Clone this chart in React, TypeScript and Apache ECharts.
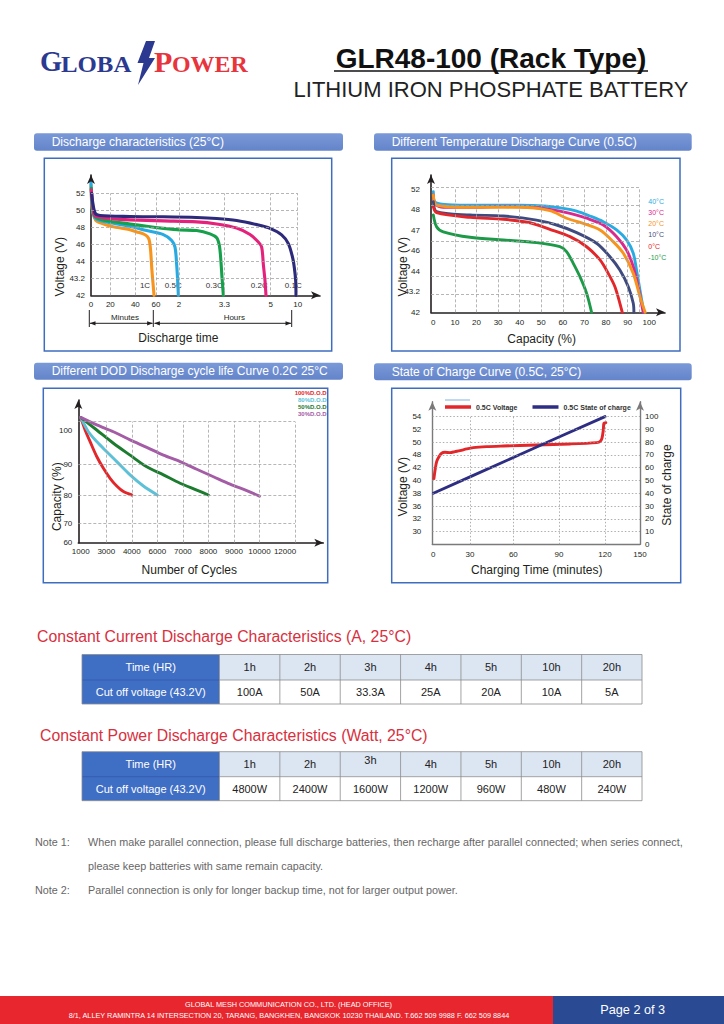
import React, { useEffect, useRef } from "react";
import * as echarts from "echarts";

const FONT = "'Liberation Sans', Arial, Helvetica, sans-serif";
const SERIF = "'Liberation Serif', 'Times New Roman', serif";

/* ======================= DATA ======================= */
// Chart 1 – Discharge characteristics (25°C)
const dcTimeTicks = [0, 20, 40, 60, 120, 198, 300, 600]; // minutes
const dcTimeLabels = ["0", "20", "40", "60", "2", "3.3", "5", "10"];
const dcVoltTicks = [42, 43.2, 44, 46, 48, 50, 52];
const dcVoltLabels = ["42", "43.2", "44", "46", "48", "50", "52"];
const dcRates = ["1C", "0.5C", "0.3C", "0.2C", "0.1C"];
const dc1C = [[0, 53.0], [1.0, 50.4], [3.1, 49.28], [5.9, 48.72], [16.2, 48.28], [22.4, 48.08], [30.4, 47.88], [35.7, 47.73], [41.3, 47.46], [47.7, 47.23], [51.6, 46.92], [53.5, 46.46], [54.8, 45.25], [56.1, 43.55], [57.4, 42.59], [58.1, 42.0]];
const dc05C = [[0, 53.2], [1.4, 50.2], [4.1, 49.12], [9.3, 48.8], [22.4, 48.48], [35.7, 48.12], [51.0, 47.62], [79.1, 47.15], [100.9, 46.46], [109.6, 45.67], [113.9, 43.85], [116.5, 43.04], [118.3, 42.0]];
const dc03C = [[0.3, 52.6], [2.4, 49.8], [5.9, 49.12], [19.7, 48.72], [35.7, 48.4], [51.0, 48.12], [79.1, 47.88], [121.7, 47.69], [150.4, 47.62], [173.4, 47.23], [184.8, 46.77], [189.4, 45.88], [191.7, 44.42], [194.0, 43.25], [196.3, 42.0]];
const dc02C = [[0.3, 52.4], [3.1, 49.6], [5.9, 49.28], [22.4, 49.0], [35.7, 48.88], [79.1, 48.76], [150.4, 48.64], [184.8, 48.4], [225.2, 47.92], [254.5, 47.15], [272.8, 46.27], [280.2, 45.67], [283.9, 43.85], [287.5, 43.04], [289.7, 42.0]];
const dc01C = [[0.7, 52.0], [4.1, 49.7], [9.3, 49.4], [35.7, 49.28], [79.1, 49.24], [150.4, 49.16], [184.8, 49.04], [225.2, 48.8], [269.2, 48.32], [298.5, 47.88], [422, 47.12], [496.3, 46.08], [544.4, 44.42], [563, 43.7], [577.8, 43.04], [581.5, 42.0]];
const dcColors = ["#f7941d", "#27aae1", "#17a04b", "#e4227c", "#2d2a7c"];

// Chart 2 – Different temperature discharge curve (0.5C)
const tcCapTicks = [0, 10, 20, 30, 40, 50, 60, 70, 80, 90, 100];
const tcVoltTicks = [42, 43.2, 44, 46, 47, 48, 52];
const tcVoltLabels = ["42", "43.2", "44", "46", "47", "48", "52"];
const tcNames = ["40°C", "30°C", "20°C", "10°C", "0°C", "-10°C"];
const tc40 = [[0, 51.54], [0.3, 49.79], [3.1, 49.14], [9.3, 48.94], [24.7, 48.88], [40.1, 48.88], [50.9, 48.75], [60.2, 48.29], [66.4, 47.94], [72.5, 47.7], [78.7, 47.42], [84.9, 47.02], [89.5, 46.53], [92.6, 45.76], [94.1, 44.13], [95.7, 43.27], [97.5, 42]];
const tc30 = [[0, 50.9], [0.8, 49.14], [4.6, 48.49], [17.0, 48.49], [32.4, 48.62], [44.8, 48.49], [54.0, 48.1], [63.3, 47.83], [71.0, 47.59], [78.7, 47.26], [84.9, 46.69], [89.5, 46.04], [92.6, 44.46], [94.9, 43.4], [97.2, 42]];
const tc20 = [[0, 50.9], [1.5, 48.94], [17.0, 48.49], [40.1, 48.49], [54.0, 47.96], [61.7, 47.59], [69.4, 47.34], [77.2, 47.02], [83.3, 46.45], [88.0, 45.76], [92.6, 43.92], [95.7, 42.92], [98.1, 42]];
const tc10 = [[0, 49.59], [1.5, 47.91], [17.0, 47.75], [32.4, 47.7], [47.8, 47.5], [57.1, 47.26], [66.4, 46.89], [75.6, 46.37], [81.8, 45.43], [86.4, 44.13], [90.3, 43.4], [92.6, 42.53], [92.9, 42]];
const tc0 = [[0, 48.62], [1.5, 47.86], [17.0, 47.63], [32.4, 47.54], [44.8, 47.37], [54.0, 47.05], [63.3, 46.69], [71.0, 46.2], [77.2, 45.11], [81.0, 43.92], [84.1, 43.4], [86.4, 42.53], [87.5, 42]];
const tcM10 = [[0, 47.75], [1.5, 47.18], [4.6, 46.93], [17.0, 46.66], [32.4, 46.53], [47.8, 46.4], [58.6, 46.2], [61.7, 45.92], [64.8, 44.78], [67.9, 43.79], [71.0, 43.11], [73.3, 42]];
const tcColors = ["#29abe2", "#d9298d", "#f7941d", "#3f4b7e", "#e3262a", "#1c9a48"];

// Chart 3 – Different DOD discharge cycle life
const cyTicks = [1000, 3000, 4000, 6000, 7000, 8000, 9000, 10000, 12000];
const cyLabels = ["1000", "3000", "4000", "6000", "7000", "8000", "9000", "10000", "12000"];
const cyCapTicks = [60, 70, 80, 90, 100];
const cyCapLabels = ["60", "70", "80", "90", "100"];
const cyNames = ["100%D.O.D", "80%D.O.D", "50%D.O.D", "30%D.O.D"];
const cy100 = [[1000, 103.7], [1340, 100], [1731, 96.6], [2253, 92.2], [2775, 88.6], [3149, 85.4], [3410, 82.9], [3671, 81.1], [4000, 80]];
const cy80 = [[1000, 103.7], [1600, 99.5], [2253, 96.6], [3018, 93.6], [3410, 90.7], [3932, 86.5], [4908, 82.9], [6000, 80]];
const cy50 = [[1000, 103.7], [2253, 100], [3279, 96.1], [3932, 92.6], [5170, 89.1], [6238, 86.5], [6890, 83.8], [7543, 81.6], [8000, 80]];
const cy30 = [[1000, 103.7], [2253, 101.5], [3279, 99.5], [3932, 97.1], [5170, 94.9], [6238, 92.6], [6890, 90.7], [7543, 88.3], [8196, 85.9], [8849, 83.5], [9501, 81.4], [10000, 79.6]];
const cyColors = ["#e3262a", "#5cc1d6", "#1b7b2e", "#a45ca6"];

// Chart 4 – State of charge curve (0.5C, 25°C)
const chTimeTicks = [0, 30, 60, 90, 120, 150];
const chTimeLabels = ["0", "30", "60", "90", "120", "150"];
const chVoltTicks = [30, 32, 36, 38, 40, 42, 48, 50, 52, 54];
const chVoltLabels = ["30", "32", "36", "38", "40", "42", "48", "50", "52", "54"];
const chSocTicks = [0, 10, 20, 30, 40, 50, 60, 70, 80, 90, 100];
const chNames = ["0.5C Voltage", "0.5C State of charge"];
const chVoltage = [[0.5, 40.3], [1.4, 41.6], [2.7, 44.85], [4.6, 47.2], [6.8, 48.26], [9.5, 48.41], [13.6, 48.36], [17.7, 48.52], [21.8, 48.67], [27.3, 48.94], [32.3, 49.14], [41.5, 49.3], [53.1, 49.4], [75.3, 49.56], [97.2, 49.72], [114.6, 49.93], [116.7, 50.08], [118.0, 50.6], [118.9, 51.9], [119.3, 52.96], [120.7, 53.06]];
const chSoc = [[0, 40], [30, 52.8], [60, 68], [90, 84], [120, 100]];
const chColors = ["#e3262a", "#2e2d84"];

// Tables
const tblTimes = ["1h", "2h", "3h", "4h", "5h", "10h", "20h"];
const tblCurrent = ["100A", "50A", "33.3A", "25A", "20A", "10A", "5A"];
const tblPower = ["4800W", "2400W", "1600W", "1200W", "960W", "480W", "240W"];

/* ======================= LAYOUT ======================= */
const IDX7 = [0, 1, 2, 3, 4, 5, 6];
const IDX9 = [0, 1, 2, 3, 4, 5, 6, 7, 8];
const IDX1_10 = [1, 2, 3, 4, 5, 6, 7, 8, 9, 10];
const G1_XPOS = [0, 19.33, 44.33, 65, 88, 133.33, 179.67, 206.67];
const G3_YPOS = [0, 19.33, 47.67, 78.67, 112.67];
const G4_XPOS = [1, 37.67, 81, 126.67, 172.67, 207.67];

function warp(v: number, ticks: number[], pos: number[]) {
  const n = ticks.length;
  let i = 0;
  if (v >= ticks[n - 1]) i = n - 2;
  else if (v > ticks[0]) {
    while (v > ticks[i + 1]) i++;
  }
  const t = (v - ticks[i]) / (ticks[i + 1] - ticks[i]);
  return pos[i] + t * (pos[i + 1] - pos[i]);
}
function pickLabel(v: number, pos: number[], labels: string[]) {
  for (let i = 0; i < pos.length; i++) if (Math.abs(pos[i] - v) < 0.01) return labels[i];
  return "";
}

function axLine(color: string, width: number, arrow: boolean) {
  return {
    show: true,
    onZero: false,
    symbol: arrow ? ["none", "arrow"] : "none",
    symbolSize: [6, 9],
    lineStyle: { color, width },
  };
}
function axLabel(pos: number[], labels: string[], margin: number, size = 8) {
  return {
    show: true,
    customValues: pos,
    formatter: (v: number) => pickLabel(v, pos, labels),
    margin,
    fontSize: size,
    color: "#231f20",
    fontFamily: FONT,
  };
}
function valAxis(gridIndex: number, min: number, max: number, line: any, label: any, extra: any = {}) {
  return {
    gridIndex,
    type: "value",
    min,
    max,
    axisLine: line,
    axisTick: { show: false },
    splitLine: { show: false },
    axisLabel: label,
    ...extra,
  };
}
function curve(name: string, data: number[][], color: string, xi: number, yi: number, width = 2.6, smooth: any = 0.3) {
  return {
    type: "line",
    name,
    data,
    xAxisIndex: xi,
    yAxisIndex: yi,
    symbol: "none",
    showSymbol: false,
    smooth,
    clip: false,
    silent: true,
    z: 3,
    lineStyle: { color, width, cap: "round", join: "round" },
    itemStyle: { color },
    emphasis: { disabled: true },
  };
}
function gridLines(xi: number, yi: number, segs: number[][], style: any) {
  return {
    type: "line",
    xAxisIndex: xi,
    yAxisIndex: yi,
    data: [[segs[0][0], segs[0][1]]],
    symbol: "none",
    showSymbol: false,
    silent: true,
    z: 1,
    lineStyle: { opacity: 0 },
    markLine: {
      silent: true,
      symbol: ["none", "none"],
      label: { show: false },
      emphasis: { disabled: true },
      lineStyle: style,
      data: segs.map((s) => [{ coord: [s[0], s[1]] }, { coord: [s[2], s[3]] }]),
    },
  };
}

function txt(x: number, y: number, text: string, o: any = {}) {
  return {
    type: "text",
    x,
    y,
    rotation: o.rot || 0,
    scaleX: o.sx || 1,
    silent: true,
    style: {
      text,
      fill: o.fill || "#231f20",
      fontSize: o.size || 12,
      fontFamily: o.family || FONT,
      fontWeight: o.weight || "normal",
      align: o.align || "left",
      verticalAlign: o.va || "middle",
    },
  };
}
function rect(x: number, y: number, w: number, h: number, fill: any, stroke?: string, lw = 1, r = 0) {
  return {
    type: "rect",
    silent: true,
    shape: { x, y, width: w, height: h, r },
    style: { fill, stroke: stroke || "none", lineWidth: lw },
  };
}
function ln(x1: number, y1: number, x2: number, y2: number, stroke = "#231f20", lw = 1) {
  return { type: "line", silent: true, shape: { x1, y1, x2, y2 }, style: { stroke, lineWidth: lw } };
}
function poly(points: number[][], fill: string) {
  return { type: "polygon", silent: true, shape: { points }, style: { fill } };
}

function tableEls(top: number, h1: number, h2: number, values: string[], raise3: number) {
  const X = 82, C0 = 137.5, CW = 60.36;
  const right = X + C0 + 7 * CW;
  const els: any[] = [];
  els.push(rect(X, top, C0, h1 + h2, "#3f6ec5"));
  els.push(rect(X + C0, top, 7 * CW, h1, "#dce6f3"));
  els.push(rect(X + C0, top + h1, 7 * CW, h2, "#ffffff"));
  els.push(ln(X, top, right, top, "#8c8c8c", 0.8));
  els.push(ln(X + C0, top + h1, right, top + h1, "#8c8c8c", 0.8));
  els.push(ln(X, top + h1, X + C0, top + h1, "#3558a8", 0.8));
  els.push(ln(X, top + h1 + h2, right, top + h1 + h2, "#8c8c8c", 0.8));
  els.push(ln(X, top, X, top + h1 + h2, "#8c8c8c", 0.8));
  for (let i = 0; i <= 7; i++) {
    const x = X + C0 + i * CW;
    els.push(ln(x, top, x, top + h1 + h2, "#8c8c8c", 0.8));
  }
  els.push(txt(X + C0 / 2, top + h1 / 2, "Time (HR)", { fill: "#ffffff", size: 11, align: "center" }));
  els.push(txt(X + C0 / 2, top + h1 + h2 / 2, "Cut off voltage (43.2V)", { fill: "#ffffff", size: 11, align: "center" }));
  tblTimes.forEach((t, i) => {
    const dy = i === 2 ? raise3 : 0;
    els.push(txt(X + C0 + (i + 0.5) * CW, top + h1 / 2 + dy, t, { fill: "#222", size: 11, align: "center" }));
  });
  values.forEach((t, i) => {
    els.push(txt(X + C0 + (i + 0.5) * CW, top + h1 + h2 / 2, t, { fill: "#222", size: 11, align: "center" }));
  });
  return els;
}

function buildGraphics() {
  const els: any[] = [];
  const blue = "#2b3990";
  const red = "#e8343c";
  // Logo
  els.push(txt(40, 76, "G", { family: SERIF, size: 30, weight: "bold", fill: blue, va: "bottom", sx: 0.95 }));
  els.push(txt(61, 75.5, "LOBA", { family: SERIF, size: 23, weight: "bold", fill: blue, va: "bottom", sx: 1.08 }));
  els.push(poly([[146, 41], [155, 41], [149, 58], [155, 58], [138, 85], [143.5, 63], [137.5, 63]], blue));
  els.push(txt(154, 76, "P", { family: SERIF, size: 30, weight: "bold", fill: red, va: "bottom" }));
  els.push(txt(172, 75.5, "OWER", { family: SERIF, size: 23, weight: "bold", fill: red, va: "bottom", sx: 1.04 }));
  // Title
  els.push(txt(491, 58, "GLR48-100 (Rack Type)", { size: 28, weight: "bold", align: "center", fill: "#111" }));
  els.push(ln(334, 71, 648, 71, "#111", 1.6));
  els.push(txt(491, 89, "LITHIUM IRON PHOSPHATE BATTERY", { size: 22, align: "center", fill: "#222" }));

  // Section header bars
  const grad = new echarts.graphic.LinearGradient(0, 0, 0, 1, [
    { offset: 0, color: "#7a99d8" },
    { offset: 1, color: "#6484ca" },
  ]);
  const bars = [
    [34, 133.3, 309, 17.5, "Discharge characteristics (25°C)", 51.7],
    [374, 133.3, 317.7, 17.5, "Different Temperature Discharge Curve (0.5C)", 391.7],
    [34, 362.7, 309, 17, "Different DOD Discharge cycle life Curve 0.2C 25°C", 51.7],
    [374, 363.3, 317.7, 17, "State of Charge Curve (0.5C, 25°C)", 391.7],
  ];
  bars.forEach((b: any) => {
    els.push(rect(b[0], b[1], b[2], b[3], grad, undefined, 0, 3));
    els.push(txt(b[5], b[1] + b[3] / 2, b[4], { fill: "#ffffff", size: 12 }));
  });
  // Chart boxes
  const boxStroke = "#3e6dc0";
  els.push(rect(44.3, 158.3, 287.4, 192.7, "none", boxStroke, 1.5));
  els.push(rect(391.7, 158.3, 288.3, 192.7, "none", boxStroke, 1.5));
  els.push(rect(43.3, 388.3, 284.4, 194.4, "none", boxStroke, 1.5));
  els.push(rect(391.7, 388.3, 289, 194.4, "none", boxStroke, 1.5));

  // Chart 1 texts
  els.push(txt(60, 266.7, "Voltage (V)", { size: 12, align: "center", rot: Math.PI / 2 }));
  els.push(txt(178.3, 338.3, "Discharge time", { size: 12, align: "center" }));
  const rateX = [145, 173.3, 214.3, 259.3, 293.3];
  dcRates.forEach((r, i) => els.push(txt(rateX[i], 285, r, { size: 8, align: "center", fill: "#333" })));
  els.push(ln(89.3, 310, 89.3, 327, "#231f20", 1));
  els.push(ln(153.3, 310, 153.3, 327, "#231f20", 1));
  els.push(ln(291.7, 310, 291.7, 327, "#231f20", 1));
  els.push(ln(90, 323.3, 152.5, 323.3, "#231f20", 1));
  els.push(ln(154.5, 323.3, 291, 323.3, "#231f20", 1));
  els.push(poly([[89.8, 323.3], [95.5, 321.2], [95.5, 325.4]], "#231f20"));
  els.push(poly([[152.8, 323.3], [147.1, 321.2], [147.1, 325.4]], "#231f20"));
  els.push(poly([[154.2, 323.3], [159.9, 321.2], [159.9, 325.4]], "#231f20"));
  els.push(poly([[291.2, 323.3], [285.5, 321.2], [285.5, 325.4]], "#231f20"));
  els.push(txt(125, 317.5, "Minutes", { size: 8, align: "center" }));
  els.push(txt(234.3, 317.5, "Hours", { size: 8, align: "center" }));

  // Chart 2 texts
  els.push(txt(403.3, 266.7, "Voltage (V)", { size: 12, align: "center", rot: Math.PI / 2 }));
  els.push(txt(541.7, 339.3, "Capacity (%)", { size: 12, align: "center" }));
  const tcLegY = [201, 212.3, 223.6, 234.9, 246.2, 257.5];
  tcNames.forEach((n, i) => els.push(txt(648.3, tcLegY[i], n, { size: 7, fill: tcColors[i] })));

  // Chart 3 texts
  els.push(txt(56.7, 496.7, "Capacity (%)", { size: 12, align: "center", rot: Math.PI / 2 }));
  els.push(txt(189.3, 570, "Number of Cycles", { size: 12, align: "center" }));
  const cyLegY = [393.3, 400.2, 407.1, 414];
  cyNames.forEach((n, i) => els.push(txt(326.7, cyLegY[i], n, { size: 6, weight: "bold", align: "right", fill: cyColors[i] })));

  // Chart 4 texts
  els.push(txt(403.3, 486.7, "Voltage (V)", { size: 12, align: "center", rot: Math.PI / 2 }));
  els.push(txt(666.7, 485, "State of charge", { size: 12, align: "center", rot: Math.PI / 2 }));
  els.push(txt(536.7, 570, "Charging Time (minutes)", { size: 12, align: "center" }));
  els.push(ln(445, 400, 470, 400, "#5aa0d8", 0.8));

  // Tables
  els.push(txt(37, 636.7, "Constant Current Discharge Characteristics (A, 25°C)", { size: 15.8, fill: "#d8303e" }));
  els.push(...tableEls(654.5, 25.5, 24, tblCurrent, 0));
  els.push(txt(40, 735, "Constant Power Discharge Characteristics (Watt, 25°C)", { size: 15.8, fill: "#d8303e" }));
  els.push(...tableEls(751.7, 25, 24, tblPower, -4));

  // Notes
  const noteC = "#666666";
  const ns = 10.8;
  els.push(txt(35, 842, "Note 1:", { size: ns, fill: noteC }));
  els.push(txt(88, 842, "When make parallel connection, please full discharge batteries, then recharge after parallel connected; when series connect,", { size: ns, fill: noteC }));
  els.push(txt(88, 866, "please keep batteries with same remain capacity.", { size: ns, fill: noteC }));
  els.push(txt(35, 890, "Note 2:", { size: ns, fill: noteC }));
  els.push(txt(88, 890, "Parallel connection is only for longer backup time, not for larger output power.", { size: ns, fill: noteC }));

  // Footer
  els.push(rect(0, 996, 553, 28, "#e8262d"));
  els.push(rect(553, 996, 171, 28, "#2a4a94"));
  els.push(txt(288.5, 1004.5, "GLOBAL MESH COMMUNICATION CO., LTD. (HEAD OFFICE)", { size: 7.3, fill: "#ffffff", align: "center" }));
  els.push(txt(289, 1015.5, "8/1, ALLEY RAMINTRA 14 INTERSECTION 20, TARANG, BANGKHEN, BANGKOK 10230 THAILAND. T.662 509 9988 F. 662 509 8844", { size: 7.3, fill: "#ffffff", align: "center" }));
  els.push(txt(632.7, 1010, "Page 2 of 3", { size: 12.7, fill: "#ffffff", align: "center" }));
  return els;
}

function buildOption() {
  const dark = "#231f20";
  const gray = "#7a7a7a";
  const dash = { color: "#a3a3a3", width: 0.8, type: [3, 2] };
  const dot = { color: "#9a9a9a", width: 0.8, type: [1.5, 2] };

  // grid segments
  const seg1: number[][] = [];
  for (let i = 1; i <= 6; i++) seg1.push([0, i, G1_XPOS[7], i]);
  for (let i = 1; i < G1_XPOS.length; i++) seg1.push([G1_XPOS[i], 0, G1_XPOS[i], 6]);

  const seg2: number[][] = [];
  const g2step = 6.1 / 7;
  for (let k = 1; k <= 7; k++) seg2.push([-1.08, k * g2step, 95.4, k * g2step]);
  [10, 20, 30, 40, 50, 60, 70, 80, 90, 95.4].forEach((x) => seg2.push([x, 0, x, 6.1]));

  const seg3: number[][] = [];
  [G3_YPOS[1], G3_YPOS[2], G3_YPOS[3], 121].forEach((y) => seg3.push([-0.094, y, 8.39, y]));
  [1, 2, 3, 4, 5, 6, 7, 8.39].forEach((x) => seg3.push([x, 0, x, 121]));

  const seg4: number[][] = [];
  for (let i = 1; i <= 10; i++) seg4.push([0, i, 207.67, i]);
  for (let i = 1; i <= 4; i++) seg4.push([G4_XPOS[i], 0, G4_XPOS[i], 10]);

  const series: any[] = [
    gridLines(0, 0, seg1, dash),
    gridLines(1, 1, seg2, dash),
    gridLines(2, 2, seg3, dash),
    gridLines(3, 3, seg4, dot),
  ];
  [dc1C, dc05C, dc03C, dc02C, dc01C].forEach((d, i) =>
    series.push(curve(dcRates[i], d.map(([t, v]) => [warp(t, dcTimeTicks, G1_XPOS), warp(v, dcVoltTicks, IDX7)]), dcColors[i], 0, 0, 3.1))
  );
  [tc40, tc30, tc20, tc10, tc0, tcM10].forEach((d, i) =>
    series.push(curve(tcNames[i], d.map(([c, v]) => [c, warp(v, tcVoltTicks, IDX7)]), tcColors[i], 1, 1, 2.9))
  );
  [cy100, cy80, cy50, cy30].forEach((d, i) =>
    series.push(curve(cyNames[i], d.map(([c, p]) => [warp(c, cyTicks, IDX9), warp(p, cyCapTicks, G3_YPOS)]), cyColors[i], 2, 2, 2.9))
  );
  series.push(curve(chNames[0], chVoltage.map(([t, v]) => [warp(t, chTimeTicks, G4_XPOS), warp(v, chVoltTicks, IDX1_10)]), chColors[0], 3, 3, 2.9));
  series.push(curve(chNames[1], chSoc.map(([t, s]) => [warp(t, chTimeTicks, G4_XPOS), s]), chColors[1], 3, 4, 2.9, false));

  const gridCommon = { containLabel: false, outerBoundsMode: "none", show: false };

  return {
    animation: false,
    textStyle: { fontFamily: FONT },
    grid: [
      { left: 91, top: 175, width: 229, height: 120.33, ...gridCommon },
      { left: 431, top: 175, width: 234, height: 137.33, ...gridCommon },
      { left: 78.33, top: 400, width: 245, height: 142.67, ...gridCommon },
      { left: 432.33, top: 401.67, width: 207.67, height: 142.67, ...gridCommon },
    ],
    xAxis: [
      valAxis(0, 0, 229, axLine(dark, 1.6, true), axLabel(G1_XPOS, dcTimeLabels, 5)),
      valAxis(1, -1.08, 107.3, axLine(dark, 1.6, true), axLabel(tcCapTicks, tcCapTicks.map(String), 6)),
      valAxis(2, -0.094, 9.5, axLine(dark, 1.6, true), axLabel(IDX9, cyLabels, 5)),
      valAxis(3, 0, 207.67, axLine(gray, 1.4, false), axLabel(G4_XPOS, chTimeLabels, 6)),
    ],
    yAxis: [
      valAxis(0, 0, 7.08, axLine(dark, 1.6, true), axLabel(IDX7, dcVoltLabels, 6)),
      valAxis(1, 0, 6.699, axLine(dark, 1.6, true), axLabel(IDX7, tcVoltLabels, 11)),
      valAxis(2, 0, 142.67, axLine(dark, 1.6, true), axLabel(G3_YPOS, cyCapLabels, 6)),
      valAxis(3, 0, 11.17, axLine(gray, 1.4, true), axLabel(IDX1_10, chVoltLabels, 11)),
      valAxis(3, 0, 111.7, axLine(gray, 1.4, true), axLabel(chSocTicks, chSocTicks.map(String), 5), { position: "right" }),
    ],
    legend: [
      {
        data: chNames,
        left: 445,
        top: 403.5,
        padding: 0,
        itemWidth: 26,
        itemHeight: 3.5,
        itemGap: 15,
        icon: "rect",
        selectedMode: false,
        textStyle: { fontSize: 7, fontWeight: "bold", color: "#333", fontFamily: FONT },
      },
    ],
    series,
    graphic: { elements: buildGraphics() },
  };
}

export default function App() {
  const ref = useRef<HTMLDivElement>(null);
  useEffect(() => {
    if (!ref.current) return;
    const chart = echarts.init(ref.current, null, { renderer: "svg" });
    chart.setOption(buildOption() as any);
    return () => chart.dispose();
  }, []);
  return (
    <div
      ref={ref}
      style={{ position: "absolute", left: 0, top: 0, width: 724, height: 1024, background: "#ffffff" }}
    />
  );
}
